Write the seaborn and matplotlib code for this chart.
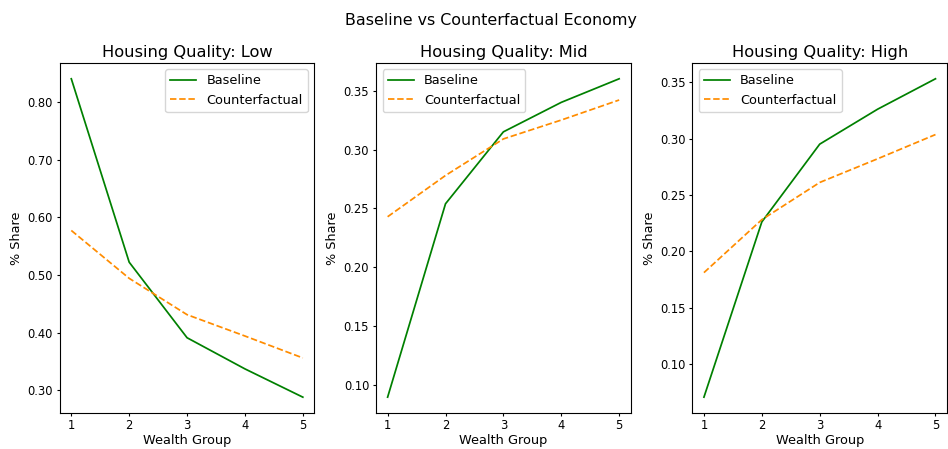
import matplotlib
matplotlib.use("Agg")
import matplotlib.pyplot as plt
import matplotlib.ticker as mticker
import seaborn as sns
import pandas as pd

wealth_groups = [1, 2, 3, 4, 5]
panel_titles = ["Housing Quality: Low", "Housing Quality: Mid", "Housing Quality: High"]
baseline_low = [0.840, 0.522, 0.391, 0.337, 0.288]
counter_low = [0.577, 0.494, 0.431, 0.394, 0.356]
baseline_mid = [0.090, 0.254, 0.315, 0.340, 0.360]
counter_mid = [0.243, 0.278, 0.309, 0.325, 0.342]
baseline_high = [0.0705, 0.226, 0.295, 0.326, 0.353]
counter_high = [0.181, 0.228, 0.261, 0.282, 0.3035]

series = [(baseline_low, counter_low), (baseline_mid, counter_mid), (baseline_high, counter_high)]
legend_locs = ["upper right", "upper left", "upper left"]

plt.rcParams["font.family"] = ["DejaVu Sans"]
plt.rcParams["xtick.major.size"] = 2.4
plt.rcParams["ytick.major.size"] = 2.4
plt.rcParams["xtick.major.pad"] = 2.2
plt.rcParams["ytick.major.pad"] = 2.5

fig, axes = plt.subplots(1, 3, figsize=(9.48, 4.49), dpi=100)
fig.subplots_adjust(left=0.063, right=0.999, top=0.86, bottom=0.08, wspace=0.242)

for ax, title, (b, c), loc in zip(axes, panel_titles, series, legend_locs):
    df = pd.DataFrame({
        "Wealth Group": wealth_groups * 2,
        "Share": b + c,
        "Scenario": ["Baseline"] * 5 + ["Counterfactual"] * 5,
    })
    sns.lineplot(data=df, x="Wealth Group", y="Share", hue="Scenario", style="Scenario",
                 palette={"Baseline": "green", "Counterfactual": "darkorange"},
                 dashes={"Baseline": "", "Counterfactual": (3.7, 1.6)},
                 linewidth=1.25, ax=ax)
    ax.set_title(title, fontsize=11.7, pad=4)
    ax.set_xlabel("Wealth Group", fontsize=9.3, labelpad=1)
    ax.set_ylabel("% Share", fontsize=9.2, labelpad=3)
    ax.set_xticks(wealth_groups)
    ax.yaxis.set_major_formatter(mticker.FormatStrFormatter("%.2f"))
    ax.tick_params(labelsize=8.3)
    for s in ax.spines.values():
        s.set_linewidth(0.8)
    leg = ax.legend(loc=loc, fontsize=9.3, frameon=True)
    leg.get_frame().set_edgecolor("#cccccc")

fig.suptitle("Baseline vs Counterfactual Economy", fontsize=11.4, x=0.518, y=0.955, va="center")
fig.savefig("out.png", dpi=100, facecolor="white")
